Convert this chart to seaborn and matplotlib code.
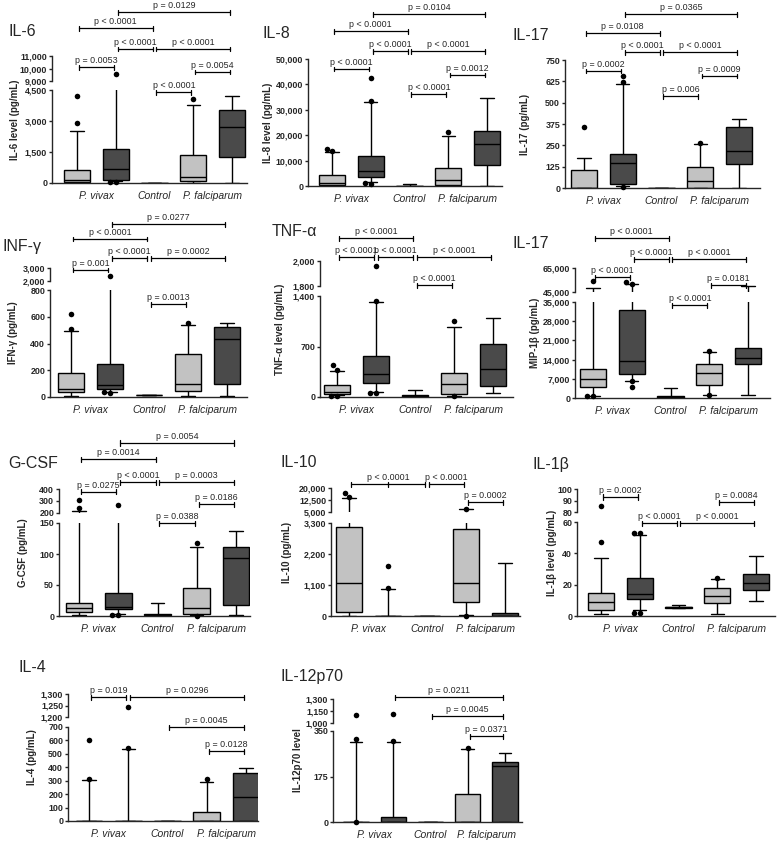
import warnings
import pandas as pd
import matplotlib
matplotlib.use("Agg")
import matplotlib.pyplot as plt
import matplotlib.transforms as mtransforms
from matplotlib.lines import Line2D
import seaborn as sns

warnings.filterwarnings("ignore")

sns.set_style("ticks")
plt.rcParams["font.family"] = ["Liberation Sans", "DejaVu Sans"]

W, H = 777, 842

GROUPS = ["Pv light", "Pv dark", "Control", "Pf light", "Pf dark"]
GROUP_LABELS = ["P. vivax", "Control", "P. falciparum"]
PALETTE = dict(zip(GROUPS, ["#c2c2c2", "#4a4a4a", "#ffffff", "#c2c2c2", "#4a4a4a"]))

# five-number summaries: [low whisker, q1, median, q3, high whisker]
il6_box = [[0, 50, 160, 640, 2520], [100, 130, 700, 1650, 6000], [0, 0, 0, 0, 0],
           [0, 110, 270, 1370, 3780], [0, 1250, 2700, 3540, 4190]]
il6_out = [[2890, 4230], [30, 30, 9540], [], [4070], []]

il8_box = [[0, 300, 1300, 4300, 13300], [1500, 3400, 5900, 11900, 33000], [0, 0, 50, 150, 650],
           [0, 500, 2500, 7100, 19800], [0, 8300, 16500, 21800, 34500]]
il8_out = [[13700, 14700], [800, 1100, 33300, 42600], [], [21100], []]

il17_box = [[0, 0, 1, 107, 176], [12, 25, 146, 197, 611], [0, 0, 0, 0, 0],
            [0, 0, 43, 125, 256], [0, 143, 217, 357, 402]]
il17_out = [[355], [5, 619, 654], [], [266], []]

ifng_box = [[5, 40, 62, 180, 492], [40, 62, 88, 243, 1500], [18, 18, 18, 18, 18],
            [5, 42, 95, 325, 537], [5, 100, 430, 525, 557]]
ifng_out = [[505, 620], [30, 35, 2420], [], [550], []]

tnfa_box = [[30, 40, 69, 161, 359], [65, 193, 313, 575, 1311], [0, 2, 10, 25, 92],
            [10, 46, 175, 331, 966], [60, 152, 386, 736, 1100]]
tnfa_out = [[20, 20, 380, 437], [55, 60, 1325, 1960], [], [8, 1049], []]

mip_box = [[800, 3900, 7050, 10700, 48200], [6300, 8600, 13400, 32000, 51500], [0, 100, 300, 900, 3600],
           [1200, 4600, 9100, 12500, 16800], [1200, 12300, 14600, 18300, 49600]]
mip_out = [[600, 600, 54200], [4000, 6100, 51800, 53000], [], [1000, 17000], []]

gcsf_box = [[2, 6, 13, 21, 217], [4, 11, 15, 37, 180], [0, 1, 2, 4, 21],
            [1, 3, 13, 45, 112], [2, 18, 94, 111, 137]]
gcsf_out = [[242, 308], [2, 2, 268], [], [0.5, 118], []]

il10_box = [[0, 140, 1170, 3160, 13750], [0, 0, 0, 0, 950], [0, 0, 0, 0, 0],
            [20, 500, 1170, 3090, 7000], [0, 0, 0, 120, 1880]]
il10_out = [[14400, 17000], [1000, 1770], [], [5, 7100], []]

il1b_box = [[1, 4, 9, 15, 37], [4, 11, 14, 24, 52], [5, 5, 5.5, 6, 7],
            [1, 8.5, 12.5, 18, 23.5], [9.5, 16.5, 21, 27, 38]]
il1b_out = [[47, 85], [2, 2, 53, 53], [], [24.5], []]

il4_box = [[0, 0, 0, 0, 305], [0, 0, 0, 0, 535], [0, 0, 0, 0, 0],
           [0, 0, 0, 64, 292], [0, 0, 176, 361, 391]]
il4_out = [[312, 600], [540, 1245], [], [312], []]

il12_box = [[0, 0, 0, 0, 306], [0, 0, 0, 19, 309], [0, 0, 0, 0, 0],
            [0, 0, 0, 108, 281], [0, 0, 217, 232, 267]]
il12_out = [[0, 318, 1099], [312, 1111], [], [283], []]

# y-axis ticks of the lower and upper (broken) segments
il6_ticks = ([0, 1500, 3000, 4500], [9000, 10000, 11000])
il8_ticks = ([0, 10000, 20000, 30000, 40000, 50000], None)
il17_ticks = ([0, 125, 250, 375, 500, 625, 750], None)
ifng_ticks = ([0, 200, 400, 600, 800], [2000, 3000])
tnfa_ticks = ([0, 700, 1400], [1800, 2000])
mip_ticks = ([0, 7000, 14000, 21000, 28000, 35000], [45000, 65000])
gcsf_ticks = ([0, 50, 100, 150], [200, 300, 400])
il10_ticks = ([0, 1100, 2200, 3300], [5000, 12500, 20000])
il1b_ticks = ([0, 20, 40, 60], [80, 90, 100])
il4_ticks = ([0, 100, 200, 300, 400, 500, 600, 700], [1200, 1250, 1300])
il12_ticks = ([0, 175, 350], [1000, 1150, 1300])

P4 = "p < 0.0001"
il6_p = [([1, 4], "p = 0.0129"), ([0, 2], P4), ([1, 2], P4), ([2, 4], P4),
         ([0, 1], "p = 0.0053"), ([3, 4], "p = 0.0054"), ([2, 3], P4)]
il8_p = [([1, 4], "p = 0.0104"), ([0, 2], P4), ([1, 2], P4), ([2, 4], P4),
         ([0, 1], P4), ([3, 4], "p = 0.0012"), ([2, 3], P4)]
il17_p = [([1, 4], "p = 0.0365"), ([0, 2], "p = 0.0108"), ([1, 2], P4), ([2, 4], P4),
          ([0, 1], "p = 0.0002"), ([3, 4], "p = 0.0009"), ([2, 3], "p = 0.006")]
ifng_p = [([1, 4], "p = 0.0277"), ([0, 2], P4), ([1, 2], P4), ([2, 4], "p = 0.0002"),
          ([0, 1], "p = 0.001"), ([2, 3], "p = 0.0013")]
tnfa_p = [([0, 2], P4), ([0, 1], P4), ([1, 2], P4), ([2, 4], P4), ([2, 3], P4)]
mip_p = [([0, 2], P4), ([1, 2], P4), ([2, 4], P4), ([0, 1], P4),
         ([3, 4], "p = 0.0181"), ([2, 3], P4)]
gcsf_p = [([1, 4], "p = 0.0054"), ([0, 2], "p = 0.0014"), ([1, 2], P4), ([2, 4], "p = 0.0003"),
          ([0, 1], "p = 0.0275"), ([3, 4], "p = 0.0186"), ([2, 3], "p = 0.0388")]
il10_p = [([0, 1, 2], P4), ([2, 3], P4), ([3, 4], "p = 0.0002")]
il1b_p = [([0, 1], "p = 0.0002"), ([3, 4], "p = 0.0084"), ([1, 2], P4), ([2, 4], P4)]
il4_p = [([0, 1], "p = 0.019"), ([1, 4], "p = 0.0296"), ([2, 4], "p = 0.0045"), ([3, 4], "p = 0.0128")]
il12_p = [([1, 4], "p = 0.0211"), ([2, 4], "p = 0.0045"), ([3, 4], "p = 0.0371")]

panels = [
    ("IL-6", "IL-6 level (pg/mL)", il6_box, il6_out, il6_ticks, il6_p),
    ("IL-8", "IL-8 level (pg/mL)", il8_box, il8_out, il8_ticks, il8_p),
    ("IL-17", "IL-17 (pg/mL)", il17_box, il17_out, il17_ticks, il17_p),
    ("INF-γ", "IFN-γ (pg/mL)", ifng_box, ifng_out, ifng_ticks, ifng_p),
    ("TNF-α", "TNF-α level (pg/mL)", tnfa_box, tnfa_out, tnfa_ticks, tnfa_p),
    ("IL-17", "MIP-1β (pg/mL)", mip_box, mip_out, mip_ticks, mip_p),
    ("G-CSF", "G-CSF (pg/mL)", gcsf_box, gcsf_out, gcsf_ticks, gcsf_p),
    ("IL-10", "IL-10 (pg/mL)", il10_box, il10_out, il10_ticks, il10_p),
    ("IL-1β", "IL-1β level (pg/mL)", il1b_box, il1b_out, il1b_ticks, il1b_p),
    ("IL-4", "IL-4 (pg/mL)", il4_box, il4_out, il4_ticks, il4_p),
    ("IL-12p70", "IL-12p70 level", il12_box, il12_out, il12_ticks, il12_p),
]

# pixel layout: x=(axis left, axis right, first box, last box), y=(base, lower top, upper base, upper top)
layout = [
    dict(x=(52, 247, 77, 232), y=(183, 90, 81, 56), lab=15, title=(8, 32),
         by=[12, 28, 49, 49, 67, 72, 92]),
    dict(x=(308, 502, 332, 487), y=(186, 59, None, None), lab=268, title=(262, 33),
         by=[14, 31, 51, 51, 69, 75, 94]),
    dict(x=(565, 760, 584, 739), y=(188, 60, None, None), lab=525, title=(513, 35),
         by=[14, 33, 52, 52, 71, 76, 96]),
    dict(x=(50, 247, 71, 227), y=(397, 290, 281, 268), lab=13, title=(3, 247),
         by=[224, 239, 258, 258, 270, 304]),
    dict(x=(320, 513, 337, 493), y=(397, 296, 286, 261), lab=280, title=(272, 232),
         by=[238, 257, 257, 257, 285]),
    dict(x=(575, 770, 593, 748), y=(398, 302, 292, 268), lab=535, title=(513, 243),
         by=[238, 259, 259, 277, 285, 305]),
    dict(x=(59, 250, 79, 236), y=(616, 523, 513, 489), lab=23, title=(8, 463),
         by=[443, 459, 482, 482, 492, 504, 523]),
    dict(x=(331, 520, 349, 505), y=(616, 523, 512, 488), lab=287, title=(280, 462),
         by=[484, 484, 502]),
    dict(x=(577, 775, 601, 756), y=(616, 522, 512, 489), lab=552, title=(532, 465),
         by=[497, 502, 523, 523]),
    dict(x=(68, 258, 89, 246), y=(821, 727, 717, 694), lab=32, title=(18, 668),
         by=[697, 697, 727, 751]),
    dict(x=(333, 522, 356, 505), y=(822, 731, 723, 699), lab=298, title=(280, 676),
         by=[697, 716, 736]),
]

fig = plt.figure(figsize=(W / 100, H / 100), dpi=100)


def rect(l, r, bottom, top):
    return [l / W, 1 - bottom / H, (r - l) / W, (bottom - top) / H]


def style_axis(ax, ticks):
    ax.set_ylim(ticks[0], ticks[-1])
    ax.set_yticks(ticks)
    ax.set_yticklabels([f"{t:,}" for t in ticks], fontsize=6.4, fontweight="bold")
    ax.tick_params(axis="y", length=2.5, width=1, pad=1)
    ax.set(xlabel="", ylabel="")
    for s in ["top", "right"]:
        ax.spines[s].set_visible(False)
    for s in ["left", "bottom"]:
        ax.spines[s].set_linewidth(1.0)


def bracket(ax, idxs, text, y_px):
    tr = mtransforms.blended_transform_factory(ax.transData, fig.transFigure)
    y = 1 - y_px / H
    x0, x1 = idxs[0] + 0.05, idxs[-1] - 0.05
    cap = 2.5 / H
    fig.add_artist(Line2D([x0, x1], [y, y], transform=tr, color="black", lw=0.9))
    for k, i in enumerate(idxs):
        xi = x0 if k == 0 else (x1 if k == len(idxs) - 1 else i)
        fig.add_artist(Line2D([xi, xi], [y - cap, y + cap], transform=tr, color="black", lw=0.9))
    fig.text((x0 + x1) / 2, y + 2 / H, text, transform=tr, ha="center", va="bottom", fontsize=6.4)


for (title, ylabel, box, out, ticks, pvals), lay in zip(panels, layout):
    l, r, b1, b5 = lay["x"]
    y0, y1, y2, y3 = lay["y"]
    step = (b5 - b1) / 4
    xlim = ((l - b1) / step, (r - b1) / step)

    box_df = pd.DataFrame([(g, v) for g, vals in zip(GROUPS, box) for v in vals],
                          columns=["group", "value"])
    out_df = pd.DataFrame([(g, v) for g, vals in zip(GROUPS, out) for v in vals],
                          columns=["group", "value"])

    lower = fig.add_axes(rect(l, r, y0, y1))
    segs = [(lower, ticks[0])]
    if ticks[1] is not None:
        upper = fig.add_axes(rect(l, r, y2, y3))
        segs.append((upper, ticks[1]))

    for ax, tk in segs:
        sns.boxplot(data=box_df, x="group", y="value", hue="group", order=GROUPS,
                    hue_order=GROUPS, palette=PALETTE, saturation=1, width=0.68,
                    whis=(0, 100), showfliers=False, linecolor="black", linewidth=1.0,
                    legend=False, ax=ax)
        sel = out_df[(out_df["value"] >= tk[0]) & (out_df["value"] <= tk[-1])]
        if len(sel):
            n = len(ax.collections)
            sns.swarmplot(data=sel, x="group", y="value", order=GROUPS, color="black",
                          size=4, ax=ax)
            for c in ax.collections[n:]:
                c.set_clip_on(False)
        style_axis(ax, tk)
        ax.set_xlim(*xlim)

    lower.set_xticks([0.5, 2, 3.5])
    lower.set_xticklabels(GROUP_LABELS, fontsize=7.5, fontstyle="italic")
    lower.tick_params(axis="x", length=0, pad=6)
    if len(segs) > 1:
        upper.set_xticks([])
        upper.spines["bottom"].set_visible(False)

    top = y3 if y3 is not None else y1
    fig.text(lay["lab"] / W, 1 - (y0 + top) / 2 / H, ylabel, rotation=90, fontsize=7,
             fontweight="bold", ha="center", va="center")
    fig.text(lay["title"][0] / W, 1 - lay["title"][1] / H, title, fontsize=11.5,
             ha="left", va="center")
    for (idxs, text), yb in zip(pvals, lay["by"]):
        bracket(lower, idxs, text, yb)

fig.savefig("out.png", dpi=100, facecolor="white")
